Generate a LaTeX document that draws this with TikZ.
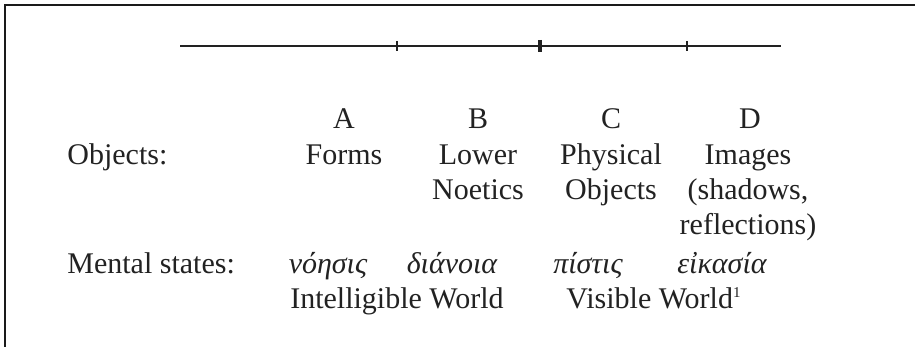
\documentclass[tikz,border=0pt]{standalone}
\usepackage{fontspec}
\setmainfont{Liberation Serif}
\usepackage{tikz}
\usetikzlibrary{positioning}
\definecolor{ink}{HTML}{222222}
\definecolor{frame}{HTML}{1A1A1A}
\newcommand\bodyfont{\fontsize{15}{17.5}\selectfont}

\begin{document}
\begin{tikzpicture}[x=0.5pt, y=-0.5pt,
    txt/.style={anchor=north, inner sep=0pt, align=center, text=ink,
      font=\bodyfont},
    lead/.style={txt, anchor=north west},
    grk/.style={txt, font=\bodyfont\itshape}]
  \useasboundingbox (0,0) rectangle (915,347);
  \draw[frame, line width=1.4pt] (5,347) -- (5,5) -- (915,5);
  % the divided line
  \coordinate (lineL) at (180,46);
  \coordinate (lineR) at (781,46);
  \draw[ink, line width=1.2pt] (lineL) -- (lineR);
  \foreach \x in {397,687}
    \draw[ink, line width=0.8pt] (\x,41) -- (\x,51);
  \draw[ink, line width=1.8pt] (540,40) -- (540,52);
  % segments
  \foreach \l/\x in {A/344,B/478,C/611,D/750}
    \node[txt] (let\l) at (\x,103.5) {\strut\l};
  \node[lead] (objLbl) at (67,139.5) {\strut Objects:};
  \node[txt] (forms) at (344,139.5) {\strut Forms};
  \node[txt] (lower) at (478,139.5) {\strut Lower\\Noetics};
  \node[txt] (phys) at (611,139.5) {\strut Physical\\Objects};
  \node[txt] (imgs) at (748,139.5) {\strut Images\\(shadows,\\reflections)};
  % states of mind
  \node[lead] (mentLbl) at (67,248.5) {\strut Mental states:};
  \node[grk] (noesis) at (328,248.5) {\strut νόησις};
  \node[grk] (dianoia) at (452,248.5) {\strut διάνοια};
  \node[grk] (pistis) at (588,248.5) {\strut πίστις};
  \node[grk] (eikasia) at (722,248.5) {\strut εἰκασία};
  \node[txt] (intel) at (397,283.5) {\strut Intelligible World};
  \node[txt] (vis) at (654,283.5)
    {\strut Visible World\textsuperscript{\fontsize{7.5}{8}\selectfont 1}};
\end{tikzpicture}
\end{document}
